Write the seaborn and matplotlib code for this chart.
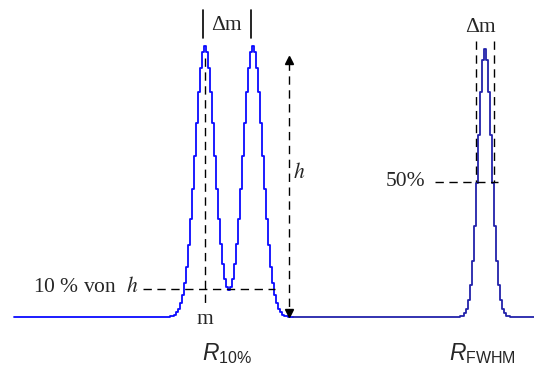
import matplotlib.pyplot as plt
import pandas as pd
import seaborn as sns

# doublet (left) spectrum, sampled staircase heights (fraction of h)
doublet_x = [14] + list(range(165, 295, 2))
doublet_y = [0.0,
             0.000, 0.001, 0.001, 0.002, 0.005, 0.009, 0.017, 0.030, 0.050, 0.080,
             0.125, 0.185, 0.264, 0.360, 0.472, 0.594, 0.717, 0.829, 0.920, 0.979,
             1.000, 0.979, 0.920, 0.829, 0.717, 0.595, 0.473, 0.362, 0.269, 0.194,
             0.142, 0.110, 0.100, 0.110, 0.142, 0.194, 0.269, 0.362, 0.473, 0.595,
             0.717, 0.829, 0.920, 0.979, 1.000, 0.979, 0.920, 0.829, 0.717, 0.594,
             0.472, 0.360, 0.264, 0.185, 0.125, 0.080, 0.050, 0.030, 0.017, 0.009,
             0.005, 0.002, 0.001, 0.001, 0.000]

# single peak (right)
single_x = [293] + list(range(455, 517, 2)) + [534]
single_y = [0.0,
            0.000, 0.0002, 0.001, 0.002, 0.005, 0.013, 0.029, 0.061, 0.118, 0.207,
            0.334, 0.494, 0.670, 0.832, 0.948, 0.990, 0.948, 0.832, 0.670, 0.494,
            0.334, 0.207, 0.118, 0.061, 0.029, 0.013, 0.005, 0.002, 0.001, 0.0002,
            0.000,
            0.0]

labels = {"dm": "Δm", "m": "m", "h": "$h$", "ten": "10 % von  $h$", "half": "50%",
          "r10": r"$R_{\mathrm{10\%}}$", "rfwhm": r"$R_{\mathrm{FWHM}}$"}

sns.set_theme(style="white")
plt.rcParams["mathtext.fontset"] = "custom"
plt.rcParams["mathtext.it"] = "Liberation Sans:italic"
plt.rcParams["mathtext.rm"] = "Liberation Sans"

fig = plt.figure(figsize=(5.34, 3.70), dpi=100)
ax = fig.add_axes([0, 0, 1, 1])

left = pd.DataFrame({"x": doublet_x, "y": doublet_y})
right = pd.DataFrame({"x": single_x, "y": single_y})
sns.lineplot(data=left, x="x", y="y", ax=ax, color="#0a0aff", lw=1.3,
             drawstyle="steps-mid", estimator=None, sort=False)
sns.lineplot(data=right, x="x", y="y", ax=ax, color="#2222aa", lw=1.3,
             drawstyle="steps-mid", estimator=None, sort=False)

dash = dict(color="black", lw=1.0, linestyle=(0, (6, 4)))
serif = "Liberation Serif"
fs = 15.5

# left: 10 % definition
ax.plot([143, 275], [0.105, 0.105], **dash)
ax.plot([205, 205], [0.955, 0.035], **dash)
ax.plot([289, 289], [0.94, 0.02], **dash)
ax.plot([289], [0.948], marker="^", color="black", ms=6)
ax.plot([289], [0.015], marker="v", color="black", ms=6)
ax.plot([203, 203], [1.133, 1.03], color="black", lw=1.2)
ax.plot([251, 251], [1.133, 1.03], color="black", lw=1.2)

ax.text(226, 1.076, labels["dm"], family=serif, fontsize=fs, ha="center", va="center")
ax.text(205, -0.01, labels["m"], family=serif, fontsize=fs, ha="center", va="center")
ax.text(299, 0.53, labels["h"], family=serif, math_fontfamily="stix", fontsize=fs,
        ha="center", va="center")
ax.text(138, 0.11, labels["ten"], family=serif, math_fontfamily="stix", fontsize=fs,
        ha="right", va="center")

# right: FWHM definition
ax.plot([476, 476], [1.018, 0.5], **dash)
ax.plot([494, 494], [1.018, 0.5], **dash)
ax.plot([435, 498], [0.5, 0.5], **dash)
ax.text(480, 1.068, labels["dm"], family=serif, fontsize=fs, ha="center", va="center")
ax.text(425, 0.5, labels["half"], family=serif, fontsize=fs, ha="right", va="center")

ax.text(202, -0.159, labels["r10"], fontsize=16.5, ha="left", va="baseline")
ax.text(449, -0.159, labels["rfwhm"], fontsize=16.5, ha="left", va="baseline")

ax.set_xlim(0, 534)
ax.set_ylim(-53 / 271, 317 / 271)
ax.axis("off")

fig.savefig("out.png", dpi=100)
